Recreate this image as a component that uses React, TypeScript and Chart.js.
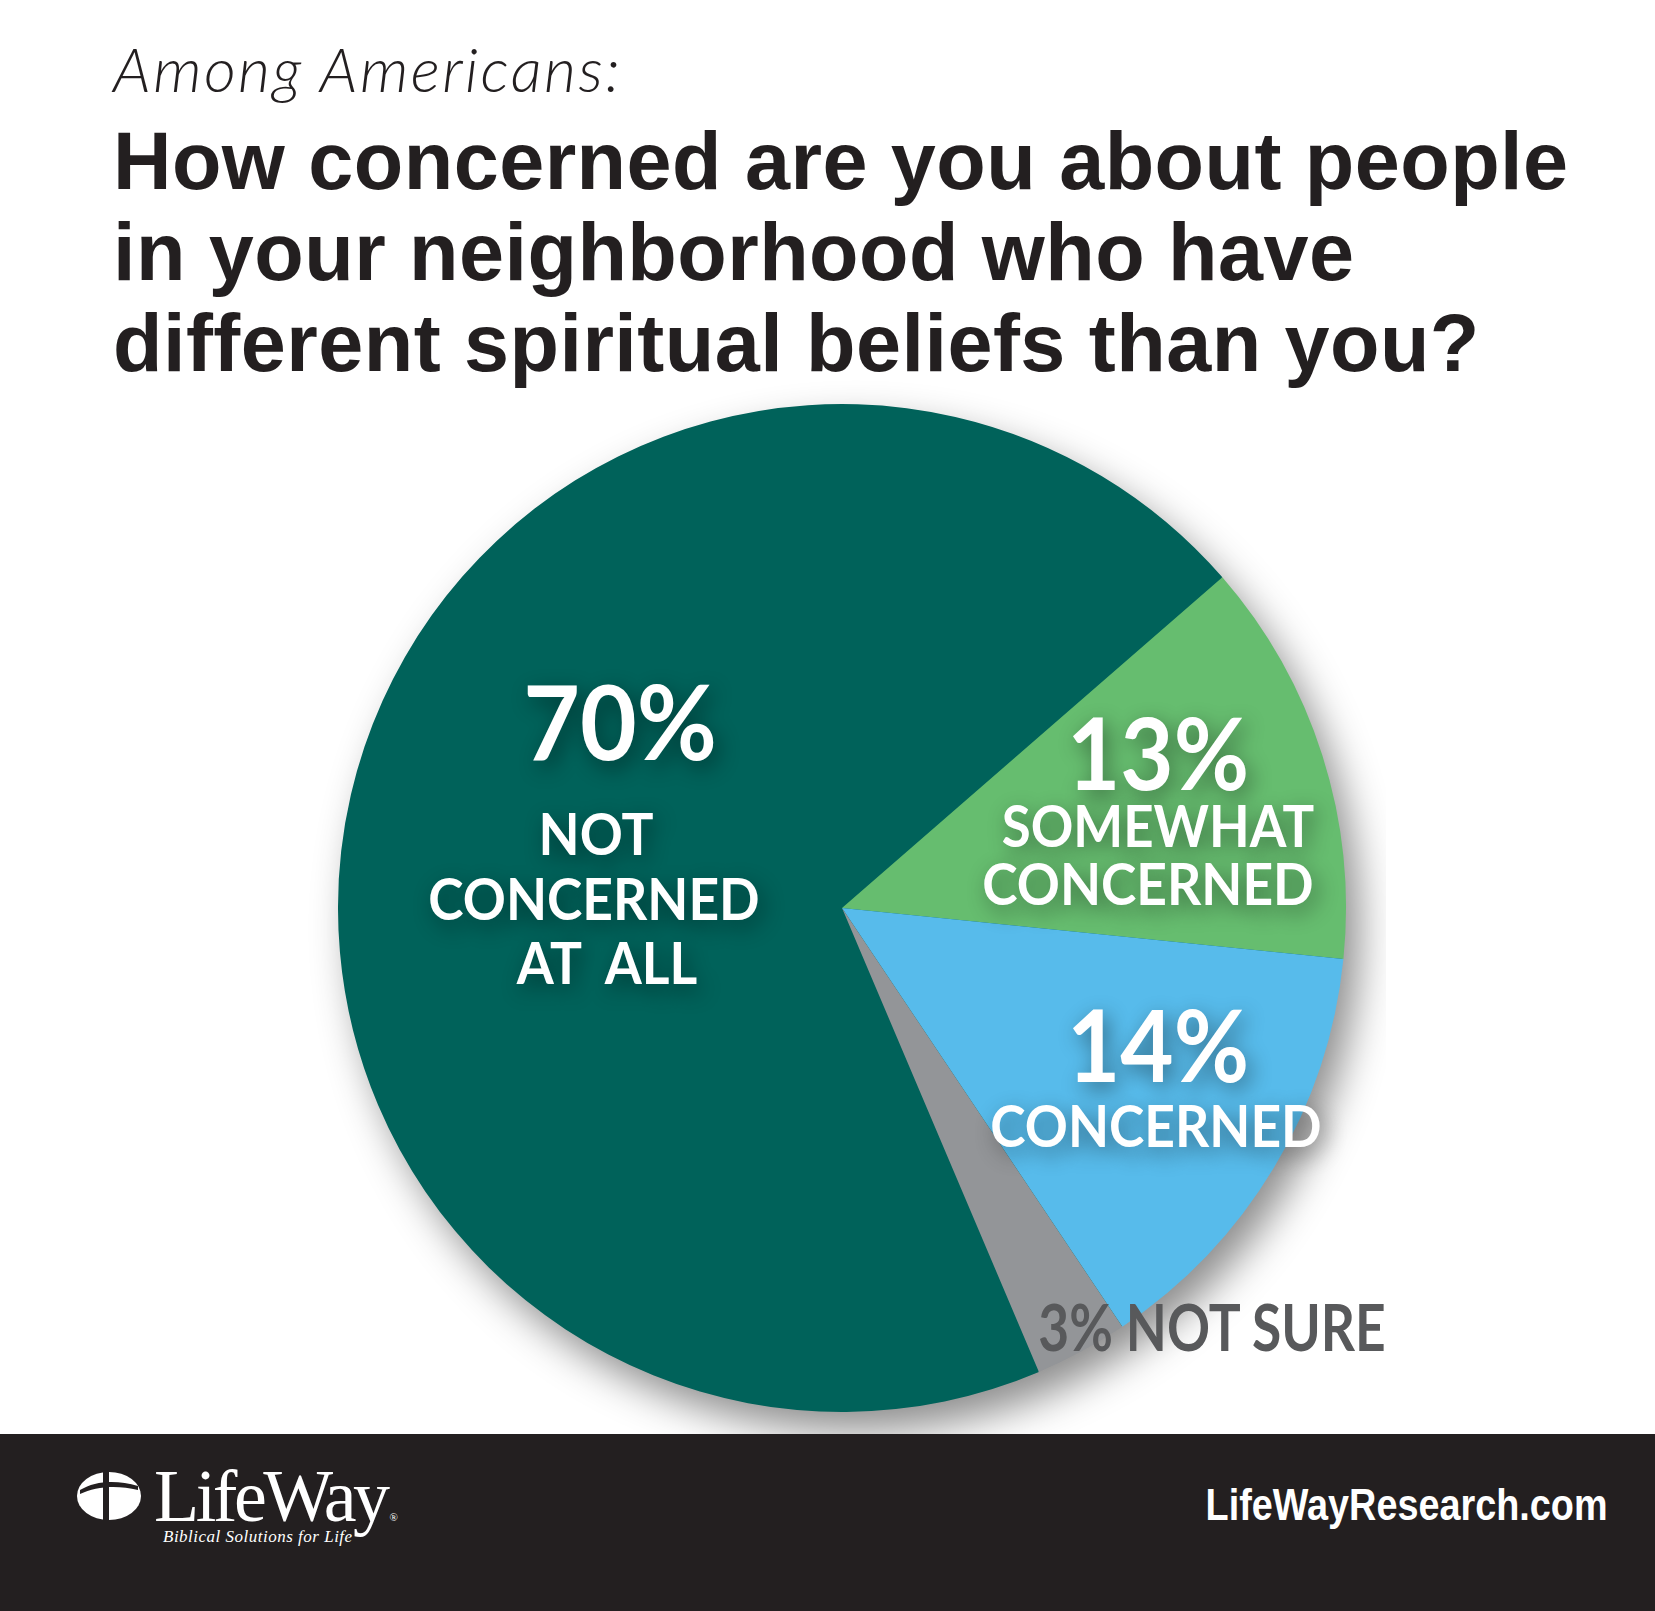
import React, { useEffect, useRef } from "react";
import { Chart, registerables } from "chart.js";

Chart.register(...registerables);

const categories = ["NOT CONCERNED AT ALL", "SOMEWHAT CONCERNED", "CONCERNED", "NOT SURE"];
const values = [70, 13, 14, 3];
const sliceColors = ["#00625a", "#66bd6f", "#57bbeb", "#939598"];
const subtitle = "Among Americans:";
const titleLines = [
  "How concerned are you about people",
  "in your neighborhood who have",
  "different spiritual beliefs than you?",
];
const siteName = "LifeWayResearch.com";

const CANVAS = 1088;
const PAD = 40;
const CX = 842;
const CY = 908;

const shadowPlugin = {
  id: "pieShadow",
  beforeDatasetsDraw(chart: any) {
    const meta = chart.getDatasetMeta(0);
    const arc = meta.data[0];
    if (!arc) return;
    const ctx = chart.ctx;
    ctx.save();
    ctx.shadowColor = "rgba(0,0,0,0.45)";
    ctx.shadowBlur = 40;
    ctx.shadowOffsetX = 14;
    ctx.shadowOffsetY = 20;
    ctx.beginPath();
    ctx.arc(arc.x, arc.y, arc.outerRadius - 1, 0, Math.PI * 2);
    ctx.fillStyle = sliceColors[0];
    ctx.fill();
    ctx.restore();
  },
};

function PieChart() {
  const ref = useRef<HTMLCanvasElement | null>(null);
  useEffect(() => {
    if (!ref.current) return;
    const chart = new Chart(ref.current, {
      type: "pie",
      data: {
        labels: categories,
        datasets: [
          {
            data: values,
            backgroundColor: sliceColors,
            borderWidth: 0,
          },
        ],
      },
      options: {
        responsive: false,
        animation: false,
        rotation: 157,
        layout: { padding: PAD },
        plugins: {
          legend: { display: false },
          tooltip: { enabled: false },
        },
      },
      plugins: [shadowPlugin],
    } as any);
    return () => chart.destroy();
  }, []);
  return (
    <canvas
      ref={ref}
      width={CANVAS}
      height={CANVAS}
      style={{
        position: "absolute",
        left: CX - CANVAS / 2,
        top: CY - CANVAS / 2,
        width: CANVAS,
        height: CANVAS,
      }}
    />
  );
}

type LabelProps = {
  text: string;
  cx: number;
  baseline: number;
  size: number;
  scale?: number;
  color?: string;
  shadow?: boolean;
  spacing?: number;
};

function Label({ text, cx, baseline, size, scale = 1, color = "#ffffff", shadow = true, spacing = 0 }: LabelProps) {
  const top = baseline - 0.887 * size;
  return (
    <div
      style={{
        position: "absolute",
        left: cx - 600,
        width: 1200,
        top,
        textAlign: "center",
        fontFamily: "Lato, 'Open Sans', sans-serif",
        fontWeight: 700,
        fontSize: size,
        lineHeight: `${size}px`,
        letterSpacing: spacing,
        color,
        whiteSpace: "pre",
        transform: `scaleX(${scale})`,
        transformOrigin: "center",
        textShadow: shadow ? "5px 7px 22px rgba(0,0,0,0.45)" : "none",
        pointerEvents: "none",
      }}
    >
      {text}
    </div>
  );
}

export default function App() {
  useEffect(() => {
    document.body.style.margin = "0";
  }, []);
  const titleSize = 81;
  const titleLH = 91;
  const titleTop = 190 - ((titleLH - 1.117 * titleSize) / 2 + 0.905 * titleSize);
  return (
    <div
      style={{
        position: "absolute",
        left: 0,
        top: 0,
        width: 1655,
        height: 1611,
        background: "#ffffff",
        overflow: "hidden",
      }}
    >
      <div
        style={{
          position: "absolute",
          left: 113,
          top: 92 - 0.887 * 62,
          fontFamily: "Lato, sans-serif",
          fontStyle: "italic",
          fontWeight: 300,
          fontSize: 62,
          lineHeight: "62px",
          letterSpacing: 2.4,
          color: "#231f20",
          whiteSpace: "nowrap",
        }}
      >
        {subtitle}
      </div>
      <div
        style={{
          position: "absolute",
          left: 113,
          top: titleTop,
          fontFamily: "'Liberation Sans', Arial, sans-serif",
          fontWeight: 700,
          fontSize: titleSize,
          lineHeight: `${titleLH}px`,
          letterSpacing: 0.45,
          color: "#231f20",
          whiteSpace: "nowrap",
        }}
      >
        {titleLines.map((l, i) => (
          <div key={i}>{l}</div>
        ))}
      </div>

      <PieChart />

      <Label text={`${values[0]}%`} cx={620} baseline={760} size={103} scale={0.95} />
      <Label text="NOT" cx={596} baseline={855} size={58} scale={0.92} />
      <Label text="CONCERNED" cx={594} baseline={920} size={58} scale={0.92} />
      <Label text="AT  ALL" cx={607} baseline={984} size={58} scale={0.92} />

      <Label text={`${values[1]}%`} cx={1158} baseline={790} size={100} scale={0.92} />
      <Label text="SOMEWHAT" cx={1158} baseline={847} size={58} scale={0.91} />
      <Label text="CONCERNED" cx={1148} baseline={905} size={58} scale={0.92} />

      <Label text={`${values[2]}%`} cx={1158} baseline={1082} size={100} scale={0.92} />
      <Label text="CONCERNED" cx={1156} baseline={1147} size={58} scale={0.92} />

      <Label
        text={`${values[3]}% NOT SURE`}
        cx={1212}
        baseline={1352}
        size={65}
        scale={0.82}
        color="#58595b"
        shadow={false}
      />

      <div
        style={{
          position: "absolute",
          left: 0,
          top: 1434,
          width: 1655,
          height: 177,
          background: "#231f20",
        }}
      >
        <svg
          width={70}
          height={52}
          viewBox="0 0 70 52"
          style={{ position: "absolute", left: 74, top: 36 }}
        >
          <ellipse cx={35} cy={26} rx={32} ry={24} fill="#ffffff" />
          <rect x={29} y={2} width={6} height={48} fill="#231f20" />
          <path d="M6 20 C 22 10, 44 10, 64 16 L 64 20 C 44 15, 22 16, 6 24 Z" fill="#231f20" />
        </svg>
        <div
          style={{
            position: "absolute",
            left: 154,
            top: 1521 - 1434 - 0.8375 * 74,
            fontFamily: "'Liberation Serif', 'DejaVu Serif', serif",
            fontSize: 74,
            lineHeight: "74px",
            letterSpacing: -3.5,
            color: "#ffffff",
            whiteSpace: "nowrap",
          }}
        >
          LifeWay
          <span style={{ fontSize: 11, letterSpacing: 0, verticalAlign: "baseline", marginLeft: 3 }}>®</span>
        </div>
        <div
          style={{
            position: "absolute",
            left: 163,
            top: 1542 - 1434 - 0.8375 * 17,
            fontFamily: "'Liberation Serif', 'DejaVu Serif', serif",
            fontStyle: "italic",
            fontSize: 17,
            lineHeight: "17px",
            letterSpacing: 0.5,
            color: "#ffffff",
            whiteSpace: "nowrap",
          }}
        >
          Biblical Solutions for Life
        </div>
        <div
          style={{
            position: "absolute",
            right: 1655 - 1608,
            top: 1520 - 1434 - 0.8465 * 45,
            fontFamily: "'Liberation Sans', Arial, sans-serif",
            fontWeight: 700,
            fontSize: 45,
            lineHeight: "45px",
            color: "#ffffff",
            whiteSpace: "nowrap",
            transform: "scaleX(0.84)",
            transformOrigin: "right center",
          }}
        >
          {siteName}
        </div>
      </div>
    </div>
  );
}
